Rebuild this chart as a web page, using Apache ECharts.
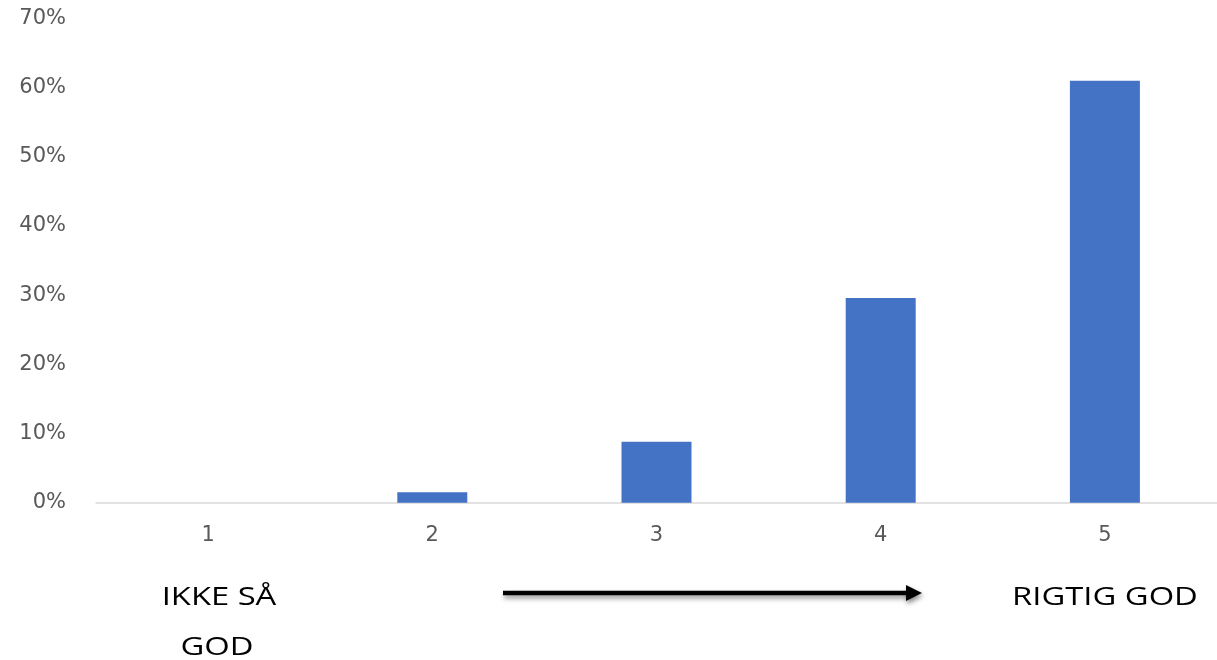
<!DOCTYPE html>
<html>
<head>
<meta charset="utf-8">
<script src="https://cdn.jsdelivr.net/npm/echarts@6/dist/echarts.min.js"></script>
<style>
html,body{margin:0;padding:0;background:#fff;}
#chart{width:1217px;height:660px;}
</style>
</head>
<body>
<div id="chart"></div>
<script>
var categories = ['1', '2', '3', '4', '5'];
var values = [0, 1.5, 8.8, 29.6, 61.0];
var yTicks = [0, 10, 20, 30, 40, 50, 60, 70];
var leftLabel = ['IKKE SÅ', 'GOD'];
var rightLabel = 'RIGTIG GOD';

var chart = echarts.init(document.getElementById('chart'), null, {renderer: 'canvas'});
var textFont = '26px "Open Sans", sans-serif';
var sx = 1.26;

chart.setOption({
  animation: false,
  backgroundColor: '#ffffff',
  grid: {left: 96, right: 0, top: 18.5, bottom: 157.3, containLabel: false},
  xAxis: {
    type: 'category',
    data: categories,
    axisLine: {show: true, lineStyle: {color: '#d9d9d9', width: 1.5}},
    axisTick: {show: false},
    axisLabel: {color: '#595959', fontSize: 21, fontFamily: 'DejaVu Sans', margin: 22}
  },
  yAxis: {
    type: 'value',
    min: yTicks[0],
    max: yTicks[yTicks.length - 1],
    interval: 10,
    axisLine: {show: false},
    axisTick: {show: false},
    splitLine: {show: false},
    axisLabel: {color: '#595959', fontSize: 21, fontFamily: 'DejaVu Sans', margin: 30,
      formatter: function (v) { return v + '%'; }}
  },
  series: [{
    type: 'bar',
    data: values,
    barWidth: 70,
    itemStyle: {color: '#4472C4'}
  }],
  graphic: [
    {type: 'text', x: 219, y: 598, scaleX: sx,
     style: {text: leftLabel[0], font: textFont, fill: '#000', textAlign: 'center', textVerticalAlign: 'middle', align: 'center', verticalAlign: 'middle'}},
    {type: 'text', x: 217, y: 648, scaleX: sx,
     style: {text: leftLabel[1], font: textFont, fill: '#000', textAlign: 'center', textVerticalAlign: 'middle', align: 'center', verticalAlign: 'middle'}},
    {type: 'text', x: 1105, y: 598, scaleX: sx,
     style: {text: rightLabel, font: textFont, fill: '#000', textAlign: 'center', textVerticalAlign: 'middle', align: 'center', verticalAlign: 'middle'}},
    {type: 'group', children: [
      {type: 'line', shape: {x1: 503, y1: 593, x2: 909, y2: 593},
       style: {stroke: '#000', lineWidth: 4.5, shadowBlur: 5, shadowOffsetY: 3, shadowOffsetX: 1, shadowColor: 'rgba(0,0,0,0.45)'}},
      {type: 'polygon', shape: {points: [[906, 585], [922, 593], [906, 601]]},
       style: {fill: '#000', shadowBlur: 5, shadowOffsetY: 3, shadowOffsetX: 1, shadowColor: 'rgba(0,0,0,0.45)'}}
    ]}
  ]
});
</script>
</body>
</html>
